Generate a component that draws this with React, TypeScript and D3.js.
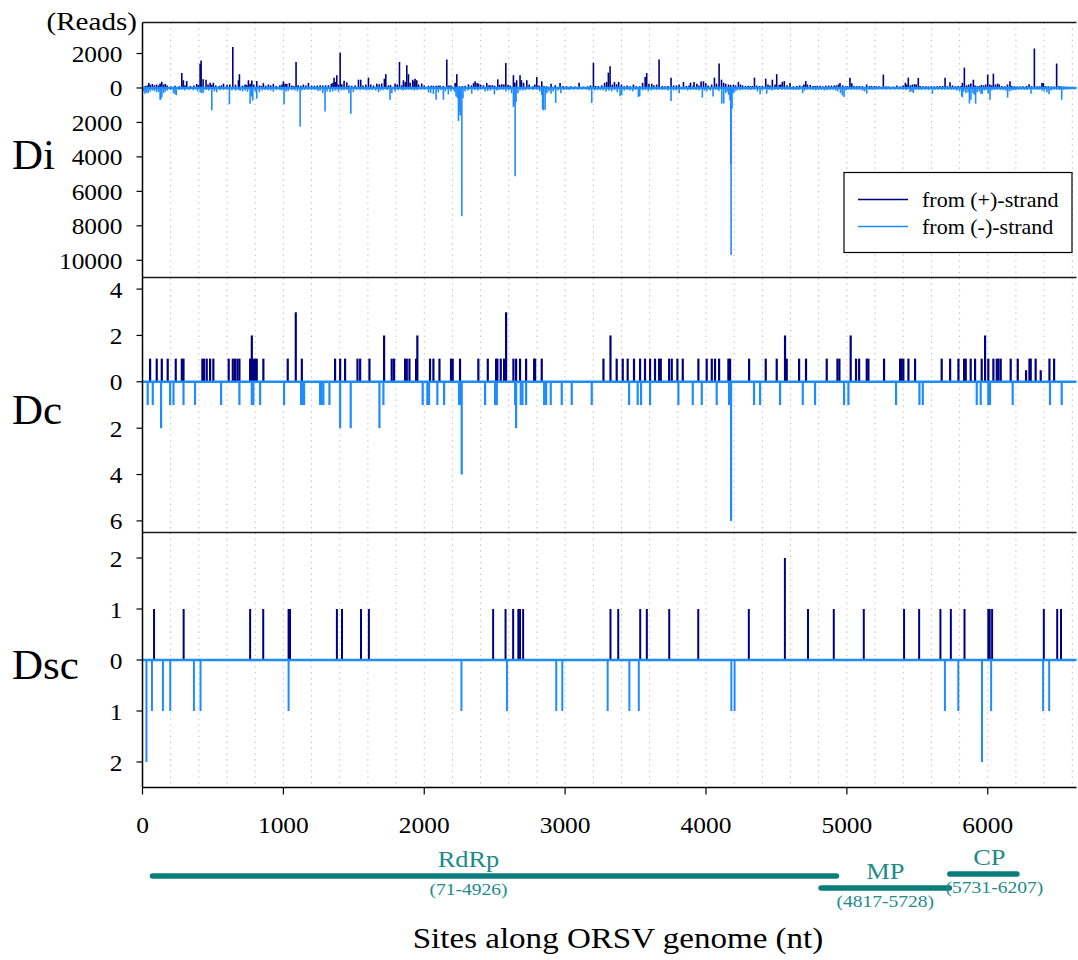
import React from 'react';
import * as d3 from 'd3';

const W = 1078;
const H = 960;
const genomeEnd = 6630;

// ---- Di : reads per site, [site, reads] ----
const diPlus: [number, number][] = [
  [20, 120], [33, 150], [45, 290], [55, 180], [70, 230], [85, 160], [100, 200], [115, 150], [125, 260], [137, 360],
  [150, 200], [162, 240], [175, 140], [200, 90], [231, 130], [260, 100], [279, 870], [290, 450], [302, 160], [314, 400],
  [340, 120], [365, 150], [385, 230], [398, 180], [409, 1400], [416, 1600], [430, 500], [451, 480], [465, 200], [480, 300],
  [492, 180], [503, 300], [520, 150], [545, 120], [560, 150], [575, 250], [600, 180], [620, 200], [641, 2380], [660, 190],
  [681, 450], [688, 800], [710, 140], [728, 200], [740, 170], [752, 450], [764, 240], [776, 430], [790, 200], [811, 400],
  [830, 150], [845, 120], [858, 280], [875, 130], [894, 200], [910, 150], [929, 240], [950, 120], [975, 160], [990, 200],
  [1000, 380], [1012, 250], [1024, 240], [1043, 290], [1060, 150], [1075, 120], [1090, 1510], [1105, 160], [1125, 130], [1142, 200],
  [1160, 150], [1178, 290], [1200, 140], [1220, 130], [1240, 150], [1261, 160], [1280, 140], [1300, 150], [1320, 160], [1340, 250],
  [1352, 300], [1360, 600], [1370, 350], [1379, 740], [1391, 200], [1403, 2040], [1415, 220], [1431, 420], [1450, 330], [1465, 150],
  [1485, 130], [1510, 150], [1533, 480], [1549, 480], [1565, 150], [1585, 200], [1604, 600], [1620, 200], [1640, 150], [1663, 250],
  [1680, 220], [1698, 260], [1717, 540], [1727, 800], [1745, 150], [1760, 180], [1793, 260], [1808, 200], [1824, 1510], [1840, 150],
  [1852, 450], [1865, 350], [1876, 1320], [1888, 800], [1900, 300], [1918, 480], [1928, 400], [1935, 540], [1947, 450], [1960, 200],
  [1982, 260], [2000, 150], [2030, 130], [2050, 130], [2065, 130], [2084, 130], [2100, 130], [2112, 140], [2135, 120], [2160, 1650],
  [2175, 150], [2190, 140], [2219, 290], [2231, 800], [2250, 100], [2270, 110], [2290, 130], [2314, 210], [2335, 150], [2350, 280],
  [2361, 390], [2375, 290], [2385, 250], [2400, 200], [2420, 150], [2444, 290], [2460, 160], [2470, 150], [2485, 160], [2500, 130],
  [2522, 500], [2535, 180], [2550, 220], [2565, 200], [2579, 1450], [2595, 190], [2610, 140], [2633, 740], [2643, 300], [2656, 450],
  [2680, 740], [2690, 450], [2705, 300], [2728, 450], [2745, 200], [2770, 100], [2785, 200], [2799, 640], [2815, 150], [2834, 390],
  [2850, 110], [2870, 100], [2900, 250], [2930, 160], [2964, 290], [2985, 120], [3010, 100], [3040, 100], [3070, 90], [3099, 310],
  [3130, 80], [3160, 100], [3180, 150], [3201, 1470], [3215, 120], [3235, 110], [3260, 150], [3280, 300], [3295, 350], [3307, 890],
  [3319, 1260], [3335, 200], [3350, 350], [3365, 220], [3380, 350], [3400, 200], [3420, 100], [3440, 150], [3460, 100], [3485, 200],
  [3505, 100], [3530, 100], [3550, 300], [3568, 640], [3579, 870], [3595, 250], [3615, 250], [3630, 160], [3650, 200], [3667, 1650],
  [3690, 120], [3710, 100], [3730, 110], [3752, 600], [3770, 150], [3790, 150], [3809, 200], [3840, 350], [3860, 120], [3880, 150],
  [3890, 310], [3910, 150], [3915, 350], [3935, 250], [3950, 150], [3965, 370], [3982, 390], [3998, 280], [4015, 150], [4040, 200],
  [4060, 600], [4075, 250], [4093, 1420], [4110, 480], [4125, 300], [4140, 250], [4160, 200], [4175, 180], [4195, 200], [4210, 150],
  [4230, 350], [4245, 200], [4260, 150], [4280, 120], [4300, 130], [4315, 110], [4330, 120], [4344, 600], [4360, 140], [4380, 120],
  [4400, 130], [4424, 540], [4440, 200], [4455, 150], [4471, 480], [4490, 200], [4502, 800], [4520, 180], [4530, 200], [4542, 350],
  [4556, 400], [4575, 160], [4596, 290], [4620, 100], [4645, 120], [4665, 150], [4685, 100], [4695, 200], [4708, 400], [4720, 200],
  [4740, 180], [4760, 120], [4775, 110], [4790, 130], [4810, 130], [4830, 100], [4850, 130], [4870, 140], [4890, 140], [4910, 150],
  [4925, 150], [4940, 200], [4951, 290], [4970, 150], [4990, 100], [5005, 100], [5022, 600], [5035, 280], [5050, 120], [5070, 110],
  [5090, 110], [5110, 100], [5140, 200], [5160, 110], [5175, 120], [5195, 110], [5210, 100], [5230, 100], [5259, 780], [5280, 100],
  [5300, 90], [5330, 80], [5355, 150], [5380, 90], [5400, 150], [5415, 300], [5425, 200], [5436, 600], [5450, 150], [5465, 200],
  [5480, 220], [5492, 200], [5507, 580], [5520, 120], [5540, 100], [5560, 100], [5580, 90], [5600, 100], [5620, 90], [5640, 100],
  [5660, 110], [5680, 120], [5697, 600], [5712, 100], [5732, 330], [5750, 150], [5770, 100], [5790, 110], [5810, 120], [5820, 300],
  [5834, 1180], [5850, 150], [5865, 200], [5880, 260], [5898, 480], [5910, 150], [5925, 100], [5940, 120], [5955, 180], [5970, 150],
  [5985, 200], [6000, 780], [6015, 200], [6028, 150], [6040, 830], [6055, 200], [6070, 250], [6082, 200], [6100, 110], [6120, 100],
  [6140, 200], [6158, 390], [6170, 120], [6190, 100], [6210, 80], [6230, 90], [6250, 100], [6275, 120], [6293, 210], [6310, 100],
  [6331, 2290], [6350, 100], [6370, 100], [6385, 290], [6395, 290], [6410, 110], [6430, 100], [6450, 90], [6470, 80], [6489, 1420],
  [6505, 100], [6520, 100], [6540, 80], [6560, 70], [6580, 60], [6600, 50],
];

const diMinus: [number, number][] = [
  [10, 200], [18, 330], [28, 270], [40, 300], [54, 200], [70, 150], [85, 180], [100, 250], [115, 230], [125, 680],
  [130, 670], [137, 520], [150, 300], [162, 220], [175, 150], [200, 120], [220, 300], [231, 370], [240, 420], [260, 120],
  [280, 100], [300, 150], [330, 120], [360, 130], [390, 200], [409, 250], [420, 300], [432, 280], [451, 120], [470, 150],
  [492, 1300], [510, 200], [527, 250], [550, 130], [575, 120], [600, 110], [617, 950], [635, 150], [660, 150], [680, 120],
  [693, 160], [710, 200], [728, 150], [745, 220], [764, 910], [775, 500], [783, 720], [800, 200], [811, 620], [830, 250],
  [850, 150], [870, 120], [890, 130], [910, 150], [929, 220], [950, 120], [975, 120], [990, 150], [1005, 950], [1020, 200],
  [1035, 170], [1060, 130], [1080, 150], [1100, 200], [1119, 2230], [1130, 150], [1150, 120], [1175, 110], [1200, 130], [1225, 120],
  [1245, 180], [1261, 160], [1280, 300], [1296, 1360], [1310, 200], [1332, 240], [1350, 200], [1370, 150], [1391, 220], [1410, 150],
  [1430, 130], [1450, 110], [1465, 300], [1479, 1500], [1497, 240], [1520, 120], [1545, 130], [1570, 110], [1590, 150], [1610, 130],
  [1630, 120], [1655, 150], [1675, 250], [1690, 150], [1710, 130], [1735, 120], [1757, 680], [1770, 300], [1793, 200], [1815, 130],
  [1840, 110], [1852, 150], [1870, 120], [1890, 100], [1910, 120], [1930, 150], [1950, 130], [1975, 100], [2000, 110], [2030, 250],
  [2045, 300], [2065, 350], [2084, 680], [2100, 250], [2120, 120], [2136, 680], [2150, 200], [2171, 380], [2190, 200], [2210, 150],
  [2219, 250], [2226, 500], [2236, 580], [2243, 1920], [2250, 1400], [2255, 1600], [2267, 7440], [2275, 600], [2290, 200], [2310, 150],
  [2337, 330], [2360, 120], [2380, 150], [2400, 100], [2432, 200], [2450, 180], [2470, 150], [2498, 370], [2515, 150], [2535, 120],
  [2560, 100], [2580, 200], [2600, 150], [2620, 300], [2633, 1100], [2638, 1000], [2645, 5130], [2652, 800], [2665, 300], [2680, 150],
  [2700, 150], [2720, 120], [2745, 100], [2770, 120], [2800, 100], [2820, 200], [2834, 400], [2840, 1250], [2846, 1300], [2858, 1260],
  [2870, 300], [2885, 200], [2900, 330], [2915, 200], [2933, 870], [2950, 150], [2970, 300], [2990, 120], [3010, 100], [3030, 120],
  [3060, 100], [3090, 100], [3120, 90], [3150, 100], [3170, 150], [3189, 870], [3210, 150], [3230, 120], [3250, 130], [3270, 150],
  [3290, 200], [3310, 150], [3330, 200], [3350, 120], [3370, 250], [3390, 480], [3402, 420], [3420, 150], [3440, 120], [3460, 150],
  [3480, 200], [3500, 110], [3520, 520], [3530, 480], [3550, 150], [3570, 120], [3590, 200], [3610, 150], [3630, 110], [3650, 120],
  [3670, 100], [3690, 120], [3710, 110], [3730, 150], [3752, 760], [3770, 150], [3790, 150], [3810, 300], [3830, 110], [3850, 100],
  [3870, 150], [3890, 120], [3910, 100], [3930, 120], [3950, 150], [3974, 560], [3990, 150], [4005, 200], [4030, 150], [4050, 500],
  [4070, 110], [4090, 180], [4112, 910], [4126, 900], [4140, 300], [4150, 200], [4160, 400], [4170, 720], [4176, 4400], [4178, 9700],
  [4185, 1200], [4195, 300], [4205, 200], [4220, 150], [4240, 130], [4260, 110], [4280, 100], [4300, 110], [4320, 120], [4340, 100],
  [4365, 200], [4384, 370], [4400, 150], [4431, 330], [4450, 120], [4470, 150], [4490, 100], [4510, 120], [4540, 110], [4560, 110],
  [4580, 100], [4600, 110], [4620, 120], [4640, 120], [4660, 100], [4686, 290], [4700, 150], [4720, 100], [4740, 100], [4760, 120],
  [4780, 150], [4800, 130], [4820, 110], [4840, 150], [4860, 130], [4880, 120], [4900, 100], [4920, 150], [4935, 200], [4955, 300],
  [4968, 430], [4980, 520], [4995, 150], [5010, 100], [5030, 110], [5050, 110], [5070, 100], [5090, 100], [5110, 150], [5125, 200],
  [5141, 330], [5160, 100], [5180, 110], [5200, 100], [5220, 90], [5250, 90], [5280, 100], [5310, 100], [5340, 100], [5370, 90],
  [5400, 100], [5420, 120], [5448, 230], [5462, 200], [5472, 290], [5490, 100], [5510, 110], [5530, 120], [5555, 100], [5580, 120],
  [5607, 330], [5625, 100], [5650, 110], [5675, 100], [5697, 110], [5720, 100], [5740, 100], [5760, 110], [5780, 150], [5800, 200],
  [5815, 480], [5820, 540], [5830, 200], [5845, 300], [5860, 250], [5870, 900], [5881, 680], [5895, 300], [5905, 400], [5914, 910],
  [5925, 250], [5940, 200], [5952, 330], [5960, 350], [5975, 150], [5990, 120], [6003, 300], [6016, 680], [6030, 150], [6050, 110],
  [6070, 100], [6090, 120], [6110, 130], [6128, 150], [6141, 560], [6155, 200], [6170, 150], [6185, 120], [6200, 130], [6220, 100],
  [6240, 100], [6260, 110], [6280, 120], [6307, 330], [6325, 100], [6345, 100], [6365, 100], [6385, 150], [6400, 200], [6420, 250],
  [6435, 370], [6450, 150], [6470, 100], [6490, 100], [6510, 120], [6525, 680], [6540, 100], [6560, 80], [6580, 70], [6600, 60],
];

// ---- Dc ----
const dcPlus: [number, number][] = [
  [54, 1], [101, 1], [137, 1], [179, 1], [236, 1], [279, 1], [291, 1], [425, 1], [437, 1], [456, 1],
  [480, 1], [503, 1], [612, 1], [641, 1], [657, 1], [674, 1], [688, 1], [764, 1], [776, 2], [787, 1],
  [799, 1], [811, 1], [858, 1], [1031, 1], [1088, 3], [1131, 1], [1367, 1], [1403, 1], [1438, 1], [1526, 1],
  [1545, 1], [1611, 1], [1715, 2], [1769, 1], [1786, 1], [1864, 1], [1876, 1], [1895, 1], [1942, 1], [1951, 2],
  [2041, 1], [2065, 1], [2108, 1], [2190, 1], [2202, 1], [2254, 1], [2384, 1], [2451, 1], [2510, 1], [2519, 1],
  [2543, 1], [2567, 1], [2581, 3], [2633, 1], [2652, 1], [2680, 1], [2723, 1], [2780, 1], [2787, 1], [2834, 1],
  [3272, 1], [3322, 2], [3366, 1], [3409, 1], [3444, 1], [3489, 1], [3532, 1], [3567, 1], [3603, 1], [3638, 1],
  [3667, 1], [3679, 1], [3738, 1], [3757, 1], [3797, 1], [3835, 1], [3946, 1], [4005, 1], [4041, 1], [4064, 1],
  [4093, 1], [4159, 1], [4171, 1], [4306, 1], [4424, 1], [4502, 1], [4561, 2], [4573, 1], [4661, 1], [4710, 1],
  [4857, 1], [4933, 1], [4947, 1], [5027, 2], [5065, 1], [5087, 1], [5141, 1], [5153, 1], [5264, 1], [5378, 1],
  [5389, 1], [5401, 1], [5437, 1], [5484, 1], [5673, 1], [5733, 1], [5792, 1], [5832, 1], [5844, 1], [5879, 1],
  [5910, 1], [5957, 1], [5981, 2], [6004, 1], [6040, 1], [6064, 1], [6076, 1], [6092, 1], [6163, 1], [6213, 1],
  [6272, 0.5], [6296, 1], [6305, 1], [6340, 1], [6376, 0.5], [6438, 1], [6471, 1],
];

const dcMinus: [number, number][] = [
  [37, 1], [73, 1], [132, 2], [196, 1], [220, 1], [291, 1], [373, 1], [558, 1], [688, 1], [776, 1],
  [787, 1], [835, 1], [1005, 1], [1126, 1], [1138, 1], [1147, 1], [1261, 1], [1272, 1], [1284, 1], [1327, 1],
  [1403, 2], [1478, 2], [1682, 2], [1710, 1], [1989, 1], [2022, 1], [2034, 1], [2093, 1], [2141, 1], [2247, 1],
  [2259, 1], [2266, 4], [2432, 1], [2503, 1], [2515, 1], [2645, 1], [2652, 2], [2685, 1], [2697, 1], [2723, 1],
  [2851, 1], [2865, 1], [2898, 1], [2976, 1], [3047, 1], [3189, 1], [3454, 1], [3515, 1], [3539, 1], [3603, 1],
  [3804, 1], [3906, 1], [3970, 1], [4076, 1], [4164, 1], [4178, 6], [4341, 1], [4384, 1], [4526, 1], [4687, 1],
  [4774, 1], [4980, 1], [5011, 1], [5349, 1], [5515, 1], [5539, 1], [5922, 1], [5950, 1], [6004, 1], [6016, 1],
  [6177, 1], [6442, 1], [6525, 1],
];

// ---- Dsc ----
const dscPlus: [number, number][] = [
  [82, 1], [292, 1], [764, 1], [857, 1], [1037, 1], [1047, 1], [1380, 1], [1416, 1], [1551, 1], [1607, 1],
  [2489, 1], [2577, 1], [2631, 1], [2668, 1], [2680, 1], [2702, 1], [3322, 1], [3377, 1], [3533, 1], [3580, 1],
  [3739, 1], [3945, 1], [4304, 1], [4560, 2], [4724, 1], [4907, 1], [5120, 1], [5406, 1], [5513, 1], [5664, 1],
  [5738, 1], [5835, 1], [6004, 1], [6014, 1], [6031, 1], [6398, 1], [6493, 1], [6520, 1],
];

const dscMinus: [number, number][] = [
  [28, 2], [67, 1], [145, 1], [197, 1], [365, 1], [412, 1], [1037, 1], [2264, 1], [2587, 1], [2937, 1],
  [2980, 1], [3302, 1], [3456, 1], [3523, 1], [4180, 1], [4203, 1], [5696, 1], [5791, 1], [5959, 2], [6024, 1],
  [6393, 1], [6436, 1],
];

const genes = [
  { name: 'RdRp', start: 71, end: 4926 },
  { name: 'MP', start: 4817, end: 5728 },
  { name: 'CP', start: 5731, end: 6207 },
];

const xTicks = [0, 1000, 2000, 3000, 4000, 5000, 6000];
const diTicks = [-10000, -8000, -6000, -4000, -2000, 0, 2000];
const dcTicks = [-6, -4, -2, 0, 2, 4];
const dscTicks = [-2, -1, 0, 1, 2];

const PLUS = '#000080';
const MINUS = '#1E8CFF';
const TEAL = '#0A7D7A';
const TEAL_TEXT = '#1B8C88';
const SERIF = "'Liberation Serif', 'Times New Roman', serif";

const left = 142.5;
const right = 1076.5;
const top = 22.5;
const panelH = 255;

const panelDefs = [
  { label: 'Di', plus: diPlus, minus: diMinus, domain: [-11000, 3800], ticks: diTicks, bw: 1.6 },
  { label: 'Dc', plus: dcPlus, minus: dcMinus, domain: [-6.5, 4.5], ticks: dcTicks, bw: 2.2 },
  { label: 'Dsc', plus: dscPlus, minus: dscMinus, domain: [-2.5, 2.5], ticks: dscTicks, bw: 2 },
];

const SText = ({ x, y, sx = 1, anchor = 'start', size, fill = '#000', children }: any) => (
  <text transform={`translate(${x},${y}) scale(${sx},1)`} textAnchor={anchor} fontSize={size} fill={fill}>
    {children}
  </text>
);

export default function App() {
  const x = d3.scaleLinear().domain([0, genomeEnd]).range([left, right]);
  const panels = panelDefs.map((p, i) => ({
    ...p,
    y0: top + i * panelH,
    y1: top + (i + 1) * panelH,
    y: d3.scaleLinear().domain(p.domain).range([top + (i + 1) * panelH, top + i * panelH]),
  }));
  const bottom = top + 3 * panelH;
  const grid = d3.range(200, genomeEnd, 200);
  const labelShift: Record<string, number> = { RdRp: -26, MP: 0, CP: 6 };

  return (
    <div style={{ position: 'absolute', left: 0, top: 0 }}>
      <svg width={W} height={H} style={{ display: 'block', background: '#fff' }} fontFamily={SERIF}>
        {/* dotted vertical grid */}
        {grid.map(g => (
          <line key={g} x1={x(g)} x2={x(g)} y1={top} y2={bottom}
            stroke="#bdbdbd" strokeWidth={1} strokeDasharray="1.4 4.4" />
        ))}

        {panels.map(p => (
          <g key={p.label}>
            {p.minus.map(([s, v], i) => (
              <line key={'m' + i} x1={x(s)} x2={x(s)} y1={p.y(0)} y2={p.y(-v)} stroke={MINUS} strokeWidth={p.bw} />
            ))}
            {p.plus.map(([s, v], i) => (
              <line key={'p' + i} x1={x(s)} x2={x(s)} y1={p.y(0)} y2={p.y(v)} stroke={PLUS} strokeWidth={p.bw} />
            ))}
            <line x1={left} x2={right} y1={p.y(0)} y2={p.y(0)} stroke={MINUS} strokeWidth={2.4} />
            <line x1={left} x2={right} y1={p.y0} y2={p.y0} stroke="#1a1a1a" strokeWidth={1.5} />
            {p.ticks.map(t => (
              <g key={t}>
                <line x1={left - 6} x2={left} y1={p.y(t)} y2={p.y(t)} stroke="#000" strokeWidth={1.2} />
                <SText x={left - 20} y={p.y(t) + 8.5} anchor="end" size={24} sx={1.06}>{Math.abs(t)}</SText>
              </g>
            ))}
            <SText x={12} y={(p.y0 + p.y1) / 2 + 19} size={43}>{p.label}</SText>
          </g>
        ))}

        {/* axes */}
        <line x1={left} x2={left} y1={top} y2={bottom} stroke="#000" strokeWidth={1.5} />
        <line x1={left} x2={right} y1={bottom} y2={bottom} stroke="#000" strokeWidth={1.5} />
        {xTicks.map(t => (
          <g key={t}>
            <line x1={x(t)} x2={x(t)} y1={bottom} y2={bottom + 7} stroke="#000" strokeWidth={1.2} />
            <SText x={x(t)} y={833} anchor="middle" size={24} sx={1.06}>{t}</SText>
          </g>
        ))}
        <SText x={137} y={30} anchor="end" size={26} sx={1.12}>(Reads)</SText>

        {/* legend */}
        <rect x={844} y={172.5} width={228} height={80} fill="#fff" stroke="#000" strokeWidth={1.2} />
        <line x1={858} x2={908} y1={199.5} y2={199.5} stroke={PLUS} strokeWidth={1.6} />
        <line x1={858} x2={908} y1={226.5} y2={226.5} stroke={MINUS} strokeWidth={1.6} />
        <SText x={922} y={206.5} size={22}>from (+)-strand</SText>
        <SText x={922} y={233.5} size={22}>from (-)-strand</SText>

        {/* genome map */}
        {genes.map((g, i) => {
          const gy = [876, 888, 874][i];
          const cx = x((g.start + g.end) / 2) + labelShift[g.name];
          return (
            <g key={g.name}>
              <line x1={x(g.start)} x2={x(g.end)} y1={gy} y2={gy} stroke={TEAL} strokeWidth={5.5} strokeLinecap="round" />
              <SText x={cx} y={gy - 9} anchor="middle" size={23} sx={1.15} fill={TEAL_TEXT}>{g.name}</SText>
              <SText x={cx + (i === 2 ? 5 : 0)} y={gy + 19} anchor="middle" size={17} sx={1.15} fill={TEAL_TEXT}>
                {`(${g.start}-${g.end})`}
              </SText>
            </g>
          );
        })}
        <SText x={618} y={948} anchor="middle" size={29} sx={1.14}>Sites along ORSV genome (nt)</SText>
      </svg>
    </div>
  );
}
